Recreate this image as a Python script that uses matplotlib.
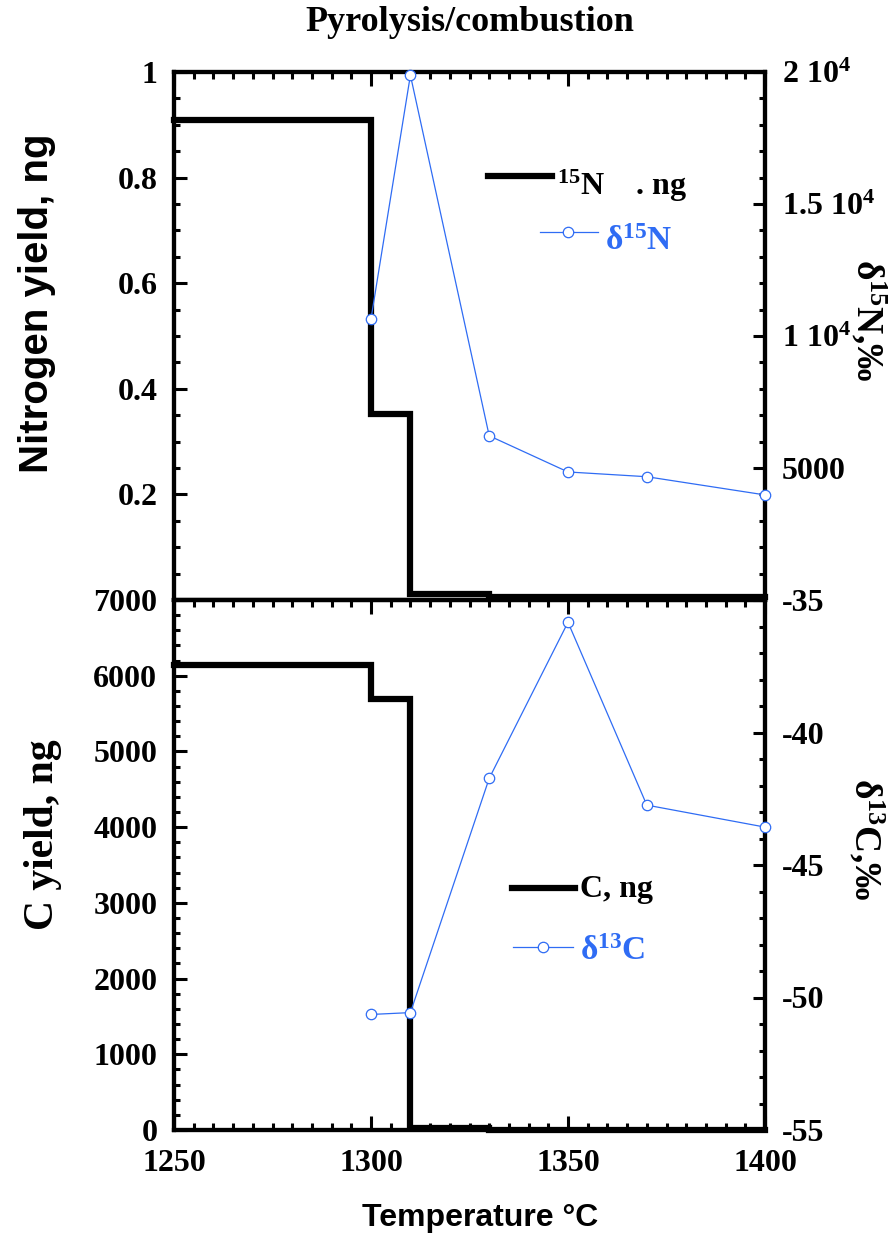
import matplotlib
matplotlib.use("Agg")
import matplotlib.pyplot as plt
from matplotlib.lines import Line2D
from matplotlib.ticker import FixedLocator, MultipleLocator, FuncFormatter

# ---- data -------------------------------------------------------------
temp_step = [1250, 1300, 1310, 1330, 1350, 1370, 1400]
n_yield = [0.91, 0.352, 0.012, 0.005, 0.005, 0.005, 0.005]      # ng
c_yield = [6140, 5690, 25, 0, 0, 0, 0]                           # ng

temp_iso = [1300, 1310, 1330, 1350, 1370, 1400]
d15n = [10650, 19880, 6220, 4850, 4670, 3980]                    # per mil
d13c = [-50.64, -50.57, -41.73, -35.84, -42.74, -43.57]          # per mil

x_ticks = [1250, 1300, 1350, 1400]
n_ticks = [0.2, 0.4, 0.6, 0.8, 1.0]
n_tick_labels = ["0.2", "0.4", "0.6", "0.8", "1"]
d15n_ticks = [5000, 10000, 15000, 20000]
d15n_tick_labels = ["5000", "1 10$^{4}$", "1.5 10$^{4}$", "2 10$^{4}$"]
c_ticks = [0, 1000, 2000, 3000, 4000, 5000, 6000, 7000]
d13c_ticks = [-55, -50, -45, -40, -35]

BLUE = "#2f6cf4"
W, H = 895, 1236

plt.rcParams.update({
    "font.family": "Liberation Serif",
    "font.weight": "bold",
    "font.size": 23,
    "mathtext.fontset": "custom",
    "mathtext.rm": "Liberation Serif:bold",
    "mathtext.bf": "Liberation Serif:bold",
    "mathtext.it": "Liberation Serif:bold",
    "mathtext.default": "rm",
})

fig = plt.figure(figsize=(W / 100, H / 100), dpi=100)


def fx(x):
    return x / W


def fy(y):
    return 1 - y / H


left, right = 174, 765
top1, mid, bot2 = 72, 600, 1130
ax1 = fig.add_axes([fx(left), fy(mid), fx(right) - fx(left), fy(top1) - fy(mid)])
ax2 = fig.add_axes([fx(left), fy(bot2), fx(right) - fx(left), fy(mid) - fy(bot2)])
ax1r = ax1.twinx()
ax2r = ax2.twinx()

SPINE_W = 3.0
for a in (ax1, ax2, ax1r, ax2r):
    for s in a.spines.values():
        s.set_linewidth(SPINE_W)
    a.set_xlim(1250, 1400)
    a.xaxis.set_major_locator(FixedLocator(x_ticks))
    a.xaxis.set_minor_locator(MultipleLocator(5))

tick_kw = dict(direction="in", width=2.2)
# top panel
ax1.tick_params(axis="x", which="major", length=10, top=True, bottom=False,
                labeltop=False, labelbottom=False, **tick_kw)
ax1.tick_params(axis="x", which="minor", length=5, top=True, bottom=False, **tick_kw)
ax1.tick_params(axis="y", which="major", length=9, left=True, right=False, pad=12, **tick_kw)
ax1.tick_params(axis="y", which="minor", length=4.5, left=True, right=False, **tick_kw)
ax1r.tick_params(axis="x", which="both", top=False, bottom=False,
                 labeltop=False, labelbottom=False)
ax1r.tick_params(axis="y", which="major", length=9, right=True, left=False, pad=12, **tick_kw)
ax1r.tick_params(axis="y", which="minor", length=4.5, right=True, left=False, **tick_kw)
# bottom panel
ax2.tick_params(axis="x", which="major", length=10, top=True, bottom=True,
                labelbottom=True, pad=14, **tick_kw)
ax2.tick_params(axis="x", which="minor", length=5, top=True, bottom=True, **tick_kw)
ax2.tick_params(axis="y", which="major", length=9, left=True, right=False, pad=12, **tick_kw)
ax2.tick_params(axis="y", which="minor", length=4.5, left=True, right=False, **tick_kw)
ax2r.tick_params(axis="x", which="both", top=False, bottom=False,
                 labeltop=False, labelbottom=False)
ax2r.tick_params(axis="y", which="major", length=9, right=True, left=False, pad=12, **tick_kw)
ax2r.tick_params(axis="y", which="minor", length=4.5, right=True, left=False, **tick_kw)

# y scales
ax1.set_ylim(0, 1)
ax1.set_yticks(n_ticks)
ax1.set_yticklabels(n_tick_labels)
ax1.yaxis.set_minor_locator(MultipleLocator(0.05))
ax1r.set_ylim(0, 20000)
ax1r.set_yticks(d15n_ticks)
ax1r.set_yticklabels(d15n_tick_labels)
ax1r.yaxis.set_minor_locator(MultipleLocator(1000))

ax2.set_ylim(0, 7000)
ax2.set_yticks(c_ticks)
ax2.yaxis.set_minor_locator(MultipleLocator(200))
ax2r.set_ylim(-55, -35)
ax2r.set_yticks(d13c_ticks)
ax2r.yaxis.set_major_formatter(FuncFormatter(lambda v, p: f"{v:.0f}"))
ax2r.yaxis.set_minor_locator(MultipleLocator(1))

# yields (step) and isotope ratios
ax1.step(temp_step, n_yield, where="post", color="black", lw=4.5, clip_on=False,
         solid_joinstyle="miter", zorder=3)
ax2.step(temp_step, c_yield, where="post", color="black", lw=4.5, clip_on=False,
         solid_joinstyle="miter", zorder=3)
ax1r.plot(temp_iso, d15n, color=BLUE, lw=0.9, marker="o", ms=7.5, mfc="white",
          mec=BLUE, mew=0.9, clip_on=False, zorder=4)
ax2r.plot(temp_iso, d13c, color=BLUE, lw=0.9, marker="o", ms=7.5, mfc="white",
          mec=BLUE, mew=0.9, clip_on=False, zorder=4)

# axis titles
fig.text(fx(470), fy(31), "Pyrolysis/combustion", ha="center", va="baseline",
         fontsize=26, fontweight="bold")
fig.text(fx(480), fy(1226), "Temperature °C", ha="center", va="baseline",
         fontsize=23, fontweight="bold", family="Liberation Sans")
fig.text(fx(37), fy(303), "Nitrogen yield, ng", rotation=90, ha="center", va="center",
         fontsize=29, fontweight="bold", family="Liberation Sans")
fig.text(fx(43), fy(835), "C yield, ng", rotation=90, ha="center", va="center",
         fontsize=30, fontweight="bold")
fig.text(fx(868), fy(320), "δ$^{15}$N,‰", rotation=-90, ha="center", va="center",
         fontsize=27, fontweight="bold")
fig.text(fx(866), fy(839), "δ$^{13}$C,‰", rotation=-90, ha="center", va="center",
         fontsize=27, fontweight="bold")

# legends
def legend_line(x0, x1, y, **kw):
    fig.add_artist(Line2D([fx(x0), fx(x1)], [fy(y), fy(y)], transform=fig.transFigure, **kw))


legend_line(488, 552, 176, color="black", lw=4.5)
fig.text(fx(557), fy(186), "${}^{15}$N    . ng", ha="left", va="center", fontsize=23)
legend_line(540, 598, 232, color=BLUE, lw=0.9)
fig.add_artist(Line2D([fx(568)], [fy(232)], transform=fig.transFigure, marker="o",
                      ms=7.5, mfc="white", mec=BLUE, mew=0.9, lw=0))
fig.text(fx(605), fy(241), "δ$^{15}$N", ha="left", va="center", fontsize=24, color=BLUE)

legend_line(512, 575, 888, color="black", lw=4.5)
fig.text(fx(580), fy(889), "C, ng", ha="left", va="center", fontsize=23)
legend_line(513, 573, 947, color=BLUE, lw=0.9)
fig.add_artist(Line2D([fx(543)], [fy(947)], transform=fig.transFigure, marker="o",
                      ms=7.5, mfc="white", mec=BLUE, mew=0.9, lw=0))
fig.text(fx(580), fy(951), "δ$^{13}$C", ha="left", va="center", fontsize=24, color=BLUE)

fig.savefig("out.png", dpi=100)
